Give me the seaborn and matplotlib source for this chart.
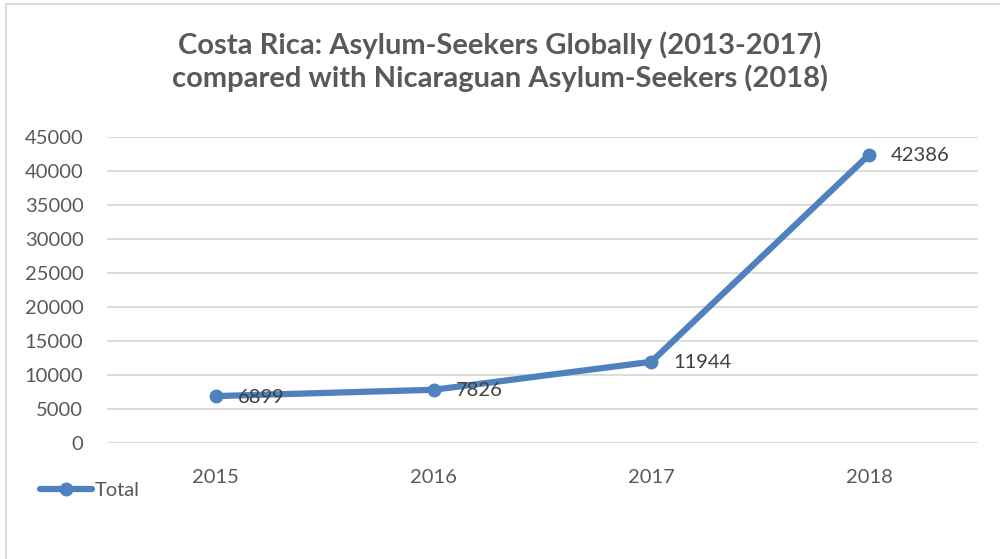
import matplotlib
matplotlib.use("Agg")
import matplotlib.pyplot as plt
import seaborn as sns
import pandas as pd
import numpy as np
from matplotlib.patches import Rectangle
from matplotlib.lines import Line2D
from matplotlib.transforms import offset_copy

years = ["2015", "2016", "2017", "2018"]
totals = [6899, 7826, 11944, 42386]
y_ticks = [0, 5000, 10000, 15000, 20000, 25000, 30000, 35000, 40000, 45000]
title = "Costa Rica: Asylum-Seekers Globally (2013-2017)\ncompared with Nicaraguan Asylum-Seekers (2018)"
series_name = "Total"

LINE = "#4F81BD"
TEXT = "#595959"
GRID = "#D9D9D9"

sns.set_style("white")
plt.rcParams["font.family"] = ["Lato", "DejaVu Sans"]

df = pd.DataFrame({"year": years, "total": totals})
df["x"] = np.arange(len(years))

fig = plt.figure(figsize=(10, 5.59), dpi=100)
ax = fig.add_axes([0.107, 0.2075, 0.871, 0.5475])

sns.lineplot(data=df, x="x", y="total", ax=ax, color=LINE, lw=4.5,
             marker="o", markersize=10, markeredgewidth=0,
             solid_capstyle="round", solid_joinstyle="round", legend=False,
             zorder=3)

for xv, yv in zip(df["x"], df["total"]):
    tr = offset_copy(ax.transData, fig=fig, x=22, y=-1, units="dots")
    ax.text(xv, yv, str(int(yv)), transform=tr, ha="left", va="center",
            fontsize=14.5, color="#404040")

ax.set_xlim(-0.5, len(years) - 0.5)
ax.set_ylim(0, 45000)
ax.set_yticks(y_ticks)
ax.set_yticklabels([str(t) for t in y_ticks])
ax.set_xticks(df["x"])
ax.set_xticklabels(years)
ax.tick_params(axis="both", length=0, labelsize=14.5, labelcolor=TEXT)
ax.tick_params(axis="y", pad=17)
ax.tick_params(axis="x", pad=19)
ax.set_xlabel("")
ax.set_ylabel("")
ax.grid(axis="y", color=GRID, lw=1.3)
ax.set_axisbelow(True)
for s in ax.spines.values():
    s.set_visible(False)

fig.suptitle(title, x=0.5, y=0.943, fontsize=21, fontweight="bold",
             color=TEXT, linespacing=1.2)

handle = Line2D([], [], color=LINE, lw=4.5, marker="o", markersize=10,
                markeredgewidth=0, solid_capstyle="round")
fig.legend([handle], [series_name], loc="center left",
           bbox_to_anchor=(0.022, 0.123), frameon=False, fontsize=14.5,
           handlelength=2.6, handletextpad=0.1, labelcolor=TEXT)

fig.patches.append(Rectangle((0.006, -0.05), 1.2, 1.043, transform=fig.transFigure,
                             fill=False, edgecolor="#D9D9D9", lw=1.3))

fig.savefig("out.png", dpi=100, facecolor="white")
